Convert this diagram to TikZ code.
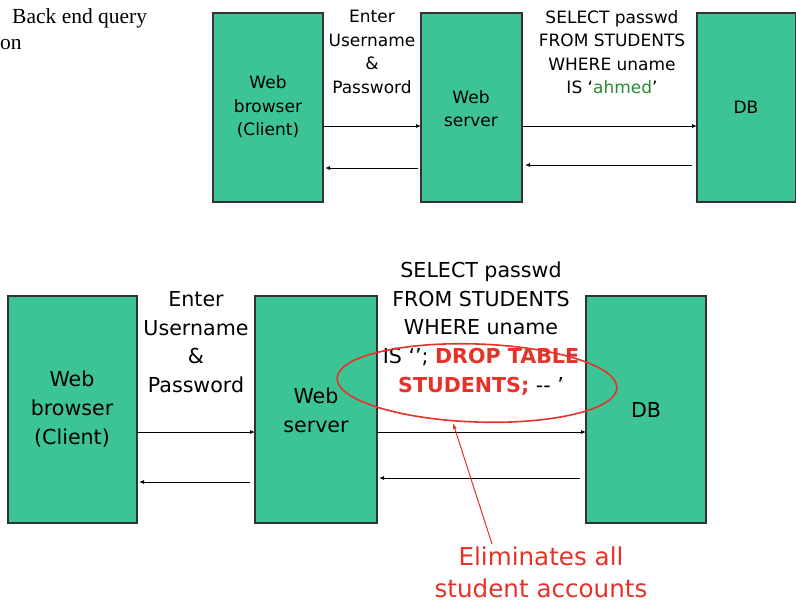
\documentclass[tikz,border=0pt]{standalone}
\usepackage{fontspec}
\setmainfont{DejaVu Sans}
\newfontfamily\serifface{Liberation Serif}
\usetikzlibrary{arrows.meta}
\definecolor{boxgreen}{RGB}{60,196,150}
\definecolor{boxedge}{RGB}{50,50,50}
\definecolor{injred}{RGB}{230,50,40}
\definecolor{okgreen}{RGB}{40,140,50}
\tikzset{
  tier/.style={draw=boxedge, line width=1.3pt, fill=boxgreen},
  flow/.style={draw=black, line width=0.9pt, -{Latex[length=5pt,width=4pt]}},
  smalltxt/.style={align=center, inner sep=0pt, font=\fontsize{17}{23.5}\selectfont},
  bigtxt/.style={align=center, inner sep=0pt, font=\fontsize{20.6}{28.7}\selectfont},
}
\begin{document}
\begin{tikzpicture}[x=1pt,y=-1pt]
\useasboundingbox (0,0) rectangle (796,606);
\fill[white] (0,0) rectangle (796,606);

% caption fragment
\node[anchor=base west, inner sep=0pt, font=\serifface\fontsize{21.5}{26}\selectfont] (cap1) at (12,23) {Back end query};
\node[anchor=base west, inner sep=0pt, font=\serifface\fontsize{21.5}{26}\selectfont] (cap2) at (0,49) {on};

% ---------- top diagram ----------
\draw[tier] (213,13) rectangle (323,202);
\draw[tier] (421,13) rectangle (522,202);
\draw[tier] (697,13) rectangle (795.5,202);
\coordinate (tbL) at (323,126);
\coordinate (twsL) at (421,126);
\coordinate (twsLb) at (418,168);
\coordinate (tbLb) at (325,168);
\coordinate (twsR) at (522,126);
\coordinate (tdb) at (697,126);
\coordinate (tdbb) at (692,165);
\coordinate (twsRb) at (525,165);

\node[smalltxt] (tbrowser) at (268,107) {Web\\browser\\(Client)};
\node[smalltxt] (tserver) at (471,108.5) {Web\\server};
\node[smalltxt] (tdbl) at (746,107) {DB};
\node[smalltxt] (tenter) at (372,52) {Enter\\Username\\\&\\Password};
\node[smalltxt] (tsel) at (612,52) {SELECT passwd\\FROM STUDENTS\\WHERE uname\\IS ‘\textcolor{okgreen}{ahmed}’};

\draw[flow] (tbL) -- (twsL);
\draw[flow] (twsLb) -- (tbLb);
\draw[flow] (twsR) -- (tdb);
\draw[flow] (tdbb) -- (twsRb);

% ---------- bottom diagram ----------
\draw[tier] (8,296) rectangle (137,523);
\draw[tier] (255,296) rectangle (377,523);
\draw[tier] (586,296) rectangle (706,523);
\coordinate (bbL) at (137,432);
\coordinate (bwsL) at (255,432);
\coordinate (bwsLb) at (250,482);
\coordinate (bbLb) at (139,482);
\coordinate (bwsR) at (377,432);
\coordinate (bdb) at (586,432);
\coordinate (bdbb) at (580,478);
\coordinate (bwsRb) at (379,478);

\node[bigtxt] (bbrowser) at (72,409) {Web\\browser\\(Client)};
\node[bigtxt] (bserver) at (316,410) {Web\\server};
\node[bigtxt] (bdbl) at (646,410) {DB};
\node[bigtxt] (benter) at (196,342) {Enter\\Username\\\&\\Password};
\node[bigtxt] (bsel) at (481,328.5) {SELECT passwd\\FROM STUDENTS\\WHERE uname\\IS ‘’; \textcolor{injred}{\textbf{DROP TABLE}}\\\textcolor{injred}{\textbf{STUDENTS;}} -{}- ’};

\draw[flow] (bbL) -- (bwsL);
\draw[flow] (bwsLb) -- (bbLb);
\draw[flow] (bwsR) -- (bdb);
\draw[flow] (bdbb) -- (bwsRb);

% highlight
\draw[injred, line width=1.6pt, rotate around={-2:(477,383)}] (477,383) ellipse [x radius=140, y radius=39];
\coordinate (hit) at (453,423);
\node[align=center, inner sep=0pt, text=injred, font=\fontsize{24.6}{32}\selectfont] (note) at (541,572) {Eliminates all\\student accounts};
\draw[injred, line width=1pt, -{Latex[length=6pt,width=4pt]}] (492,544) -- (hit);
\end{tikzpicture}
\end{document}
